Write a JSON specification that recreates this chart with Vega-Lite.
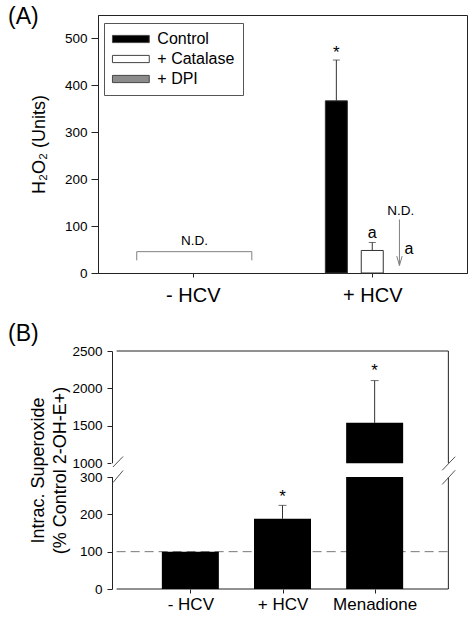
{
  "$schema": "https://vega.github.io/schema/vega-lite/v6.json",
  "padding": {"left": 7, "top": 5, "right": 0, "bottom": 0},
  "spacing": 17,
  "config": {
    "font": "Liberation Sans",
    "view": {"stroke": "#222", "strokeWidth": 1},
    "axis": {"labelFont": "Liberation Sans", "titleFont": "Liberation Sans", "labelColor": "#000", "titleColor": "#000", "domainColor": "#222", "tickColor": "#222", "grid": false, "titleFontWeight": "normal", "labelFlush": false, "labelOverlap": false},
    "title": {"font": "Liberation Sans", "fontSize": 23, "fontWeight": "normal", "color": "#000", "anchor": "start", "frame": "group", "baseline": "middle"},
    "text": {"font": "Liberation Sans"}
  },
  "datasets": {
    "h2o2": [
      {"condition": "+ HCV", "treatment": "Control", "pos": 2.6, "value": 367, "upper": 454},
      {"condition": "+ HCV", "treatment": "+ Catalase", "pos": 3.0, "value": 48, "upper": 65}
    ],
    "h2o2_star": [{"pos": 2.6, "value": 470, "label": "*"}],
    "h2o2_letters": [{"pos": 3.0, "value": 85, "label": "a"}, {"pos": 3.41, "value": 51, "label": "a"}],
    "h2o2_nd": [{"pos": 3.317, "value": 133, "label": "N.D."}, {"pos": 1.02, "value": 69, "label": "N.D."}],
    "h2o2_bracket": [
      {"pos": 0.376, "value": 45.5, "pos2": 1.658, "value2": 45.5},
      {"pos": 0.376, "value": 45.5, "pos2": 0.376, "value2": 27},
      {"pos": 1.658, "value": 45.5, "pos2": 1.658, "value2": 27}
    ],
    "h2o2_arrow": [
      {"pos": 3.303, "value": 114, "pos2": 3.303, "value2": 16},
      {"pos": 3.273, "value": 36, "pos2": 3.303, "value2": 16},
      {"pos": 3.333, "value": 36, "pos2": 3.303, "value2": 16}
    ],
    "sox": [
      {"condition": "- HCV", "pos": 0.8, "value": 100, "upper": null},
      {"condition": "+ HCV", "pos": 1.8, "value": 188, "upper": 224},
      {"condition": "Menadione", "pos": 2.8, "value": 1540, "upper": 2105}
    ],
    "sox_star": [{"pos": 1.8, "value": 246, "label": "*"}, {"pos": 2.8, "value": 2232, "label": "*"}],
    "sox_frame": [
      {"pos": 0, "value": 2500, "pos2": 3.6, "value2": 2500},
      {"pos": 3.6, "value": 0, "pos2": 3.6, "value2": 2500},
      {"pos": 0, "value": 0, "pos2": 3.6, "value2": 0}
    ],
    "sox_ref": [{"pos": 0, "value": 100, "pos2": 3.6, "value2": 100}],
    "sox_gap": [{"pos": -0.06, "value": 300, "pos2": 3.66, "value2": 1000}],
    "sox_breaks": [
      {"pos": -0.04, "value": 811, "pos2": 0.07, "value2": 1091},
      {"pos": -0.04, "value": 285, "pos2": 0.07, "value2": 632},
      {"pos": 3.533, "value": 642, "pos2": 3.674, "value2": 1088},
      {"pos": 3.533, "value": 280, "pos2": 3.674, "value2": 642}
    ]
  },
  "vconcat": [
    {
      "width": 369,
      "height": 258,
      "title": {"text": "(A)", "dx": -90, "dy": 14, "offset": 0},
      "encoding": {
        "x": {"field": "pos", "type": "quantitative", "scale": {"domain": [0, 4], "nice": false, "zero": false},
          "axis": {"title": null, "values": [1, 3], "labelExpr": "datum.value == 1 ? '- HCV' : '+ HCV'", "labelFontSize": 20, "tickSize": 4, "labelPadding": 8}},
        "y": {"field": "value", "type": "quantitative", "scale": {"domain": [0, 550], "nice": false},
          "axis": {"title": "H₂O₂ (Units)", "titleFontSize": 18, "titlePadding": 16, "values": [0, 100, 200, 300, 400, 500], "format": "d", "labelFontSize": 13.5, "tickSize": 7, "labelPadding": 4}}
      },
      "layer": [
        {
          "data": {"name": "h2o2"},
          "mark": {"type": "bar", "width": 22, "stroke": "#333", "strokeWidth": 1},
          "encoding": {
            "color": {"field": "treatment", "type": "nominal",
              "scale": {"domain": ["Control", "+ Catalase", "+ DPI"], "range": ["#000000", "#ffffff", "#8c8c8c"]},
              "legend": {"title": null, "orient": "none", "legendX": 6, "legendY": 8, "padding": 8, "strokeColor": "#555",
                "symbolType": "M-4.6,-0.9L4.6,-0.9L4.6,0.9L-4.6,0.9Z", "symbolSize": 64, "symbolStrokeColor": "#444", "symbolStrokeWidth": 1, "symbolOpacity": 1,
                "symbolOffset": 10.85, "labelOffset": 18.5, "labelFontSize": 16, "labelFont": "Liberation Sans", "labelColor": "#000", "rowPadding": 4}}
          }
        },
        {
          "data": {"name": "h2o2"},
          "mark": {"type": "rule", "color": "#333"},
          "encoding": {"y2": {"field": "upper"}}
        },
        {
          "data": {"name": "h2o2"},
          "mark": {"type": "tick", "orient": "horizontal", "size": 7, "thickness": 1, "color": "#333"},
          "encoding": {"y": {"field": "upper", "type": "quantitative"}}
        },
        {
          "data": {"name": "h2o2_star"},
          "mark": {"type": "text", "fontSize": 17, "baseline": "middle", "color": "#000"},
          "encoding": {"text": {"field": "label"}}
        },
        {
          "data": {"name": "h2o2_letters"},
          "mark": {"type": "text", "fontSize": 16, "baseline": "middle", "color": "#000"},
          "encoding": {"text": {"field": "label"}}
        },
        {
          "data": {"name": "h2o2_nd"},
          "mark": {"type": "text", "fontSize": 13.5, "baseline": "middle", "color": "#000"},
          "encoding": {"text": {"field": "label"}}
        },
        {
          "data": {"name": "h2o2_bracket"},
          "mark": {"type": "rule", "color": "#808080"},
          "encoding": {"x2": {"field": "pos2"}, "y2": {"field": "value2"}}
        },
        {
          "data": {"name": "h2o2_arrow"},
          "mark": {"type": "rule", "color": "#808080"},
          "encoding": {"x2": {"field": "pos2"}, "y2": {"field": "value2"}}
        }
      ]
    },
    {
      "width": 369,
      "height": 238,
      "view": {"stroke": null},
      "title": {"text": "(B)", "dx": -90, "dy": 2, "offset": 0},
      "encoding": {
        "x": {"field": "pos", "type": "quantitative", "scale": {"domain": [-0.148, 3.748], "nice": false, "zero": false},
          "axis": {"title": null, "domain": false, "values": [0.8, 1.8, 2.8], "labelExpr": "datum.value < 1 ? '- HCV' : (datum.value < 2 ? '+ HCV' : 'Menadione')", "labelFontSize": 17, "tickSize": 4, "labelPadding": 3}},
        "y": {"field": "value", "type": "quantitative", "scale": {"domain": [0, 300, 1000, 2500], "range": [238, 126, 112.3, 0], "nice": false, "zero": false},
          "axis": {"title": ["Intrac. Superoxide", "(% Control 2-OH-E+)"], "titleFontSize": 18, "titleLineHeight": 22, "titlePadding": 2, "offset": -14,
            "values": [0, 100, 200, 300, 1000, 1500, 2000, 2500], "format": "d", "labelFontSize": 13.5, "tickSize": 5, "labelPadding": 5}}
      },
      "layer": [
        {
          "data": {"name": "sox_frame"},
          "mark": {"type": "rule", "color": "#222"},
          "encoding": {"x2": {"field": "pos2"}, "y2": {"field": "value2"}}
        },
        {
          "data": {"name": "sox_ref"},
          "mark": {"type": "rule", "color": "#777", "strokeDash": [9, 5]},
          "encoding": {"x2": {"field": "pos2"}, "y2": {"field": "value2"}}
        },
        {
          "data": {"name": "sox"},
          "mark": {"type": "bar", "width": 57, "color": "#000"}
        },
        {
          "data": {"name": "sox"},
          "transform": [{"filter": "datum.upper != null"}],
          "mark": {"type": "rule", "color": "#333"},
          "encoding": {"y2": {"field": "upper"}}
        },
        {
          "data": {"name": "sox"},
          "transform": [{"filter": "datum.upper != null"}],
          "mark": {"type": "tick", "orient": "horizontal", "size": 8, "thickness": 1, "color": "#333"},
          "encoding": {"y": {"field": "upper", "type": "quantitative"}}
        },
        {
          "data": {"name": "sox_star"},
          "mark": {"type": "text", "fontSize": 17, "baseline": "middle", "color": "#000"},
          "encoding": {"text": {"field": "label"}}
        },
        {
          "data": {"name": "sox_gap"},
          "mark": {"type": "rect", "color": "#ffffff"},
          "encoding": {"x2": {"field": "pos2"}, "y2": {"field": "value2"}}
        },
        {
          "data": {"name": "sox_breaks"},
          "mark": {"type": "rule", "color": "#555"},
          "encoding": {"x2": {"field": "pos2"}, "y2": {"field": "value2"}}
        }
      ]
    }
  ]
}
